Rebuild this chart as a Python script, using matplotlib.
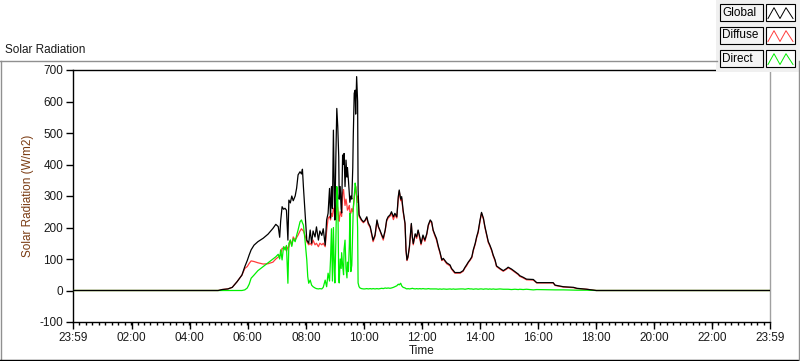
import numpy as np
import pandas as pd
import matplotlib
matplotlib.use("Agg")
import matplotlib.pyplot as plt
from matplotlib.lines import Line2D
from matplotlib.patches import Rectangle
from matplotlib.ticker import FixedLocator, FixedFormatter

plt.rcParams['font.family'] = ['Liberation Sans', 'DejaVu Sans']
plt.rcParams['axes.unicode_minus'] = False  # plain hyphen on "-100"

# Sample times (HH:MM) and readings in W/m2
times = [
    "00:00", "04:59", "05:07", "05:19", "05:28", "05:38", "05:48", "05:54", "05:59", "06:03",
    "06:07", "06:13", "06:21", "06:32", "06:42", "06:52", "06:58", "07:03", "07:06", "07:08",
    "07:11", "07:14", "07:17", "07:20", "07:23", "07:25", "07:28", "07:31", "07:34", "07:38",
    "07:41", "07:44", "07:48", "07:51", "07:53", "07:55", "07:58", "08:02", "08:04", "08:06",
    "08:09", "08:12", "08:15", "08:19", "08:22", "08:26", "08:29", "08:33", "08:36", "08:40",
    "08:43", "08:46", "08:49", "08:51", "08:53", "08:55", "08:57", "08:59", "09:00", "09:02",
    "09:04", "09:06", "09:08", "09:09", "09:11", "09:13", "09:14", "09:16", "09:18", "09:19",
    "09:21", "09:23", "09:25", "09:26", "09:28", "09:30", "09:31", "09:33", "09:35", "09:37",
    "09:38", "09:40", "09:42", "09:43", "09:45", "09:47", "09:48", "09:50", "09:52", "09:55",
    "09:59", "10:02", "10:06", "10:09", "10:13", "10:16", "10:19", "10:23", "10:27", "10:30",
    "10:33", "10:37", "10:40", "10:44", "10:47", "10:50", "10:54", "10:57", "11:01", "11:04",
    "11:08", "11:11", "11:13", "11:16", "11:18", "11:21", "11:25", "11:27", "11:29", "11:31",
    "11:34", "11:38", "11:40", "11:42", "11:46", "11:49", "11:52", "11:56", "11:58", "12:02",
    "12:06", "12:10", "12:13", "12:17", "12:20", "12:23", "12:27", "12:30", "12:34", "12:37",
    "12:41", "12:44", "12:51", "12:58", "13:01", "13:05", "13:08", "13:19", "13:25", "13:29",
    "13:32", "13:36", "13:39", "13:43", "13:46", "13:50", "13:53", "13:56", "14:00", "14:03",
    "14:07", "14:10", "14:14", "14:17", "14:20", "14:24", "14:27", "14:31", "14:34", "14:41",
    "14:48", "14:55", "14:58", "15:05", "15:12", "15:19", "15:22", "15:29", "15:36", "15:50",
    "15:57", "16:31", "16:35", "16:52", "17:13", "17:20", "17:40", "18:00", "23:58",
]

global_wm2 = [
    0, 0, 3, 5, 10, 28, 49, 76, 95, 113,
    129, 144, 155, 166, 179, 197, 210, 203, 169, 220,
    266, 258, 261, 255, 160, 287, 278, 300, 285, 300,
    325, 367, 377, 370, 385, 330, 255, 160, 155, 150,
    192, 150, 189, 170, 202, 160, 189, 175, 196, 144,
    224, 245, 324, 230, 330, 260, 509, 300, 224, 420,
    578, 520, 425, 290, 330, 260, 246, 430, 400, 435,
    330, 414, 360, 390, 351, 300, 280, 300, 290, 390,
    488, 626, 636, 560, 679, 600, 319, 240, 234, 225,
    218, 222, 234, 215, 203, 181, 160, 176, 224, 203,
    192, 176, 166, 192, 224, 234, 240, 250, 234, 245,
    234, 298, 319, 290, 298, 255, 213, 129, 97, 107,
    139, 213, 171, 149, 180, 170, 192, 166, 149, 176,
    160, 181, 208, 224, 218, 192, 176, 165, 139, 123,
    97, 102, 88, 81, 70, 63, 57, 57, 63, 74,
    81, 91, 97, 107, 129, 150, 171, 187, 224, 248,
    229, 203, 176, 155, 145, 129, 113, 97, 78, 70,
    63, 70, 74, 68, 60, 52, 47, 42, 36, 35,
    25, 25, 17, 12, 10, 7, 4, 0, 0,
]

diffuse_wm2 = [
    0, 0, 3, 5, 10, 28, 49, 70, 76, 86,
    94, 92, 88, 84, 85, 90, 100, 106, 110, 115,
    134, 134, 138, 125, 138, 138, 160, 144, 170, 160,
    168, 176, 189, 196, 192, 189, 176, 155, 150, 145,
    150, 144, 160, 145, 150, 139, 150, 145, 150, 139,
    189, 229, 235, 224, 245, 235, 261, 250, 224, 270,
    280, 260, 230, 220, 250, 240, 235, 310, 320, 300,
    270, 290, 270, 255, 260, 270, 250, 245, 260, 250,
    260, 290, 320, 330, 300, 280, 300, 235, 230, 222,
    215, 220, 230, 210, 200, 178, 155, 172, 220, 200,
    190, 173, 160, 190, 220, 230, 236, 245, 225, 240,
    230, 290, 315, 285, 292, 250, 210, 125, 95, 104,
    135, 210, 168, 145, 178, 165, 190, 160, 145, 170,
    156, 178, 205, 220, 215, 190, 172, 160, 135, 120,
    95, 100, 85, 78, 68, 60, 55, 55, 61, 72,
    78, 89, 95, 104, 126, 147, 168, 183, 220, 245,
    226, 200, 173, 152, 142, 126, 110, 94, 76, 68,
    61, 68, 72, 66, 58, 50, 45, 40, 34, 33,
    24, 24, 16, 11, 9, 6, 4, 0, 0,
]

direct_wm2 = [
    0, 0, 0, 0, 0, 0, 0, 2, 8, 20,
    39, 49, 63, 76, 88, 100, 107, 115, 100, 129,
    97, 139, 129, 143, 23, 150, 160, 140, 165, 155,
    175, 192, 218, 224, 215, 208, 165, 97, 44, 23,
    33, 17, 12, 8, 6, 5, 6, 5, 10, 33,
    12, 55, 30, 97, 196, 30, 200, 60, 24, 150,
    330, 300, 40, 24, 100, 70, 120, 80, 50, 130,
    160, 70, 40, 90, 60, 150, 246, 60, 80, 200,
    260, 300, 341, 330, 300, 200, 24, 12, 8, 6,
    5, 5, 6, 5, 6, 5, 6, 5, 6, 5,
    6, 7, 6, 8, 7, 8, 7, 8, 10, 12,
    15, 20, 18, 23, 15, 10, 8, 6, 5, 6,
    5, 6, 7, 6, 5, 6, 5, 6, 5, 6,
    5, 5, 6, 5, 5, 5, 5, 5, 4, 5,
    4, 5, 4, 5, 4, 5, 4, 5, 5, 4,
    5, 6, 5, 5, 4, 5, 5, 4, 5, 5,
    4, 5, 5, 4, 5, 4, 5, 4, 4, 5,
    4, 4, 4, 3, 4, 3, 4, 3, 4, 2,
    3, 2, 2, 2, 1, 1, 1, 0, 0,
]

tick_minutes = [-1, 120, 240, 360, 480, 600, 720, 840, 960, 1080, 1200, 1320, 1439]
tick_labels = ["23:59", "02:00", "04:00", "06:00", "08:00", "10:00", "12:00",
               "14:00", "16:00", "18:00", "20:00", "22:00", "23:59"]

df = pd.DataFrame({"time": times, "global": global_wm2,
                   "diffuse": diffuse_wm2, "direct": direct_wm2})
hm = df["time"].str.split(":", expand=True).astype(int)
df["minute"] = hm[0] * 60 + hm[1]

W, H = 800, 361
fig = plt.figure(figsize=(W / 100, H / 100), dpi=100)
fig.patch.set_facecolor("white")

ax = fig.add_axes([73 / W, 1 - 322 / H, 697 / W, 252 / H])
lw = 0.9
ax.plot(df["minute"], df["diffuse"], color="#ff3c3c", lw=lw, zorder=3)
ax.plot(df["minute"], df["direct"], color="#00f000", lw=lw, zorder=4)
ax.plot(df["minute"], df["global"], color="black", lw=lw, zorder=5)

ax.set_xlim(-1, 1439)
ax.set_ylim(-100, 700)
ax.set_yticks(range(-100, 701, 100))
ax.xaxis.set_major_locator(FixedLocator(tick_minutes))
ax.xaxis.set_major_formatter(FixedFormatter(tick_labels))
ax.xaxis.set_minor_locator(FixedLocator(np.arange(-1, 1439, 120 / 9)))

label_font = dict(fontsize=8.5, color="#1a1a1a")
ax.tick_params(axis="both", which="major", length=5, width=1, pad=2,
               labelsize=8.5, labelcolor="#1a1a1a", direction="out")
ax.tick_params(axis="x", which="minor", length=2.5, width=1, direction="out")
ax.tick_params(axis="y", which="minor", left=False)

for side in ["left", "top", "bottom"]:
    ax.spines[side].set_color("black")
    ax.spines[side].set_linewidth(1)
ax.spines["right"].set_color("#a0a0a0")
ax.spines["right"].set_linewidth(1)

ax.set_xlabel("Time", labelpad=1, **label_font)
ax.set_ylabel("Solar Radiation (W/m2)", labelpad=4, fontsize=8.5, color="#7a3b12")

# Outer frame of the graph panel
frame_col = "#909090"
fig.add_artist(Line2D([0, 717 / W], [1 - 61 / H, 1 - 61 / H], color=frame_col, lw=1,
                      transform=fig.transFigure))
fig.add_artist(Line2D([0.6 / W, 0.6 / W], [1 - 61 / H, 0], color=frame_col, lw=1,
                      transform=fig.transFigure))
fig.add_artist(Line2D([0, 1], [0.6 / H, 0.6 / H], color="black", lw=1,
                      transform=fig.transFigure))
fig.add_artist(Line2D([1 - 0.6 / W, 1 - 0.6 / W], [0, 1 - 61 / H], color=frame_col, lw=1,
                      transform=fig.transFigure))

fig.text(5 / W, 1 - 50 / H, "Solar Radiation", fontsize=8.5, color="#1a1a1a",
         va="center", ha="left")

# Legend panel (top right)
fig.add_artist(Rectangle((716 / W, 1 - 72 / H), 84 / W, 72 / H, transform=fig.transFigure,
                         facecolor="#f0f0f0", edgecolor="none", zorder=1))
legend_rows = [("Global", "black", 4), ("Diffuse", "#ff3c3c", 27), ("Direct", "#00f000", 50)]
for name, col, top in legend_rows:
    fig.add_artist(Rectangle((720 / W, 1 - (top + 17) / H), 43 / W, 17 / H,
                             transform=fig.transFigure, facecolor="#f4f4f4",
                             edgecolor="black", lw=0.8, zorder=2))
    fig.text(722 / W, 1 - (top + 8.5) / H, name, fontsize=8.5, color="black",
             va="center", ha="left", zorder=3)
    fig.add_artist(Rectangle((766 / W, 1 - (top + 17) / H), 29 / W, 17 / H,
                             transform=fig.transFigure, facecolor="white",
                             edgecolor="black", lw=0.8, zorder=2))
    sx = np.array([768, 774, 780, 786, 793]) / W
    sy = 1 - (top + np.array([15, 3, 15, 3, 15]) * 0.9 + 1) / H
    fig.add_artist(Line2D(sx, sy, color=col, lw=0.7, transform=fig.transFigure, zorder=3))

fig.savefig("out.png", dpi=100)
